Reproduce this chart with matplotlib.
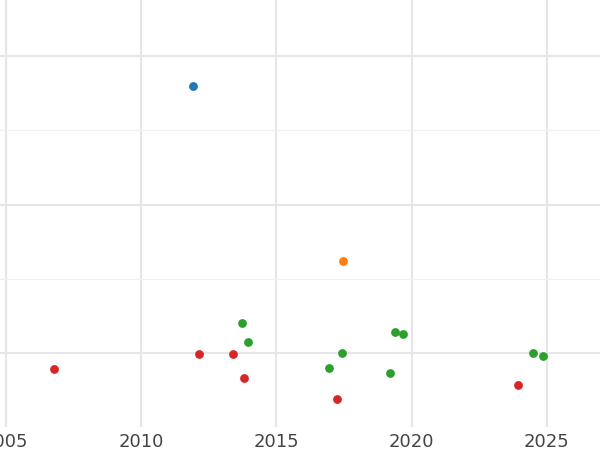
import matplotlib
matplotlib.use("Agg")
import matplotlib.pyplot as plt
from matplotlib.ticker import MultipleLocator

blue_x = [2011.92]; blue_y = [1.80]
orange_x = [2017.46]; orange_y = [0.62]
green_x = [2013.73, 2013.95, 2016.94, 2017.42, 2019.2, 2019.38, 2019.68, 2024.48, 2024.85]
green_y = [0.20, 0.07, -0.10, 0.0, -0.135, 0.14, 0.13, 0.0, -0.02]
red_x = [2006.78, 2012.14, 2013.4, 2013.8, 2017.24, 2023.92]
red_y = [-0.11, -0.01, -0.01, -0.17, -0.31, -0.22]

fig = plt.figure(figsize=(6, 4.5), dpi=100)
ax = fig.add_axes([0, 23/450, 1, 427/450])
for xs, ys, c in [(blue_x, blue_y, '#1f77b4'), (orange_x, orange_y, '#ff7f0e'),
                  (green_x, green_y, '#2ca02c'), (red_x, red_y, '#d62728')]:
    ax.scatter(xs, ys, s=40, color=c, zorder=3, linewidth=0)
ax.set_xlim(2004.79, 2026.96)
ax.set_ylim(-0.5, 2.38)
ax.xaxis.set_major_locator(MultipleLocator(5))
ax.yaxis.set_major_locator(MultipleLocator(1))
ax.yaxis.set_minor_locator(MultipleLocator(0.5))
ax.grid(True, which='major', color='#e6e6e6', linewidth=1.5)
ax.grid(True, which='minor', axis='y', color='#f0f0f0', linewidth=0.8)
ax.set_axisbelow(True)
for s in ax.spines.values():
    s.set_visible(False)
ax.tick_params(axis='x', length=0, labelsize=13, labelcolor='#444444', pad=4)
ax.tick_params(axis='y', which='both', length=0, labelleft=False)
fig.savefig("out.png", dpi=100)
